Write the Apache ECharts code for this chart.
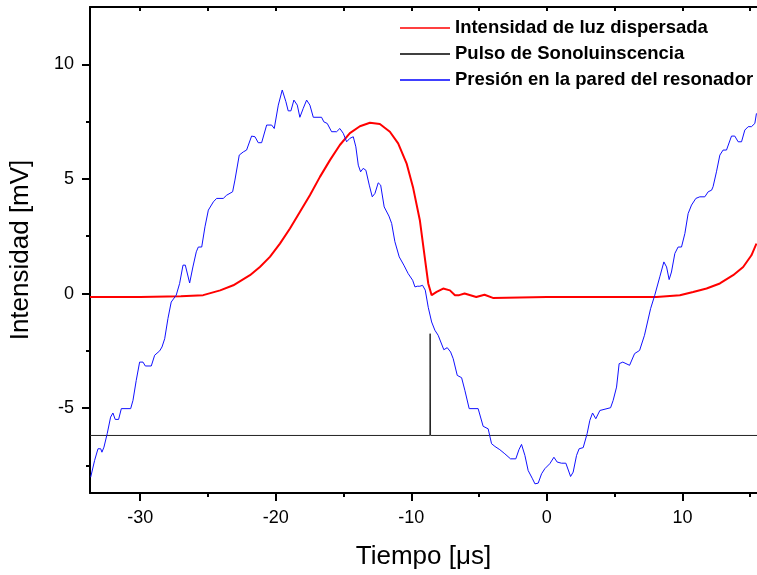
<!DOCTYPE html>
<html><head><meta charset="utf-8">
<script src="https://cdn.jsdelivr.net/npm/echarts@6/dist/echarts.min.js"></script>
<style>html,body{margin:0;padding:0;background:#fff}#c{width:757px;height:575px}</style>
</head><body><div id="c"></div>
<script>
const seriesNames = ['Intensidad de luz dispersada', 'Pulso de Sonoluinscencia', 'Presión en la pared del resonador'];
const xTickLabels = [-30, -20, -10, 0, 10];
const xMinorTicks = [-25, -15, -5, 5, 15];
const xTopTicks = [-30, -25, -20, -15, -10, -5, 0, 5, 10, 15];
const yTickLabels = [-5, 0, 5, 10];
const yMinorTicks = [-7.5, -2.5, 2.5, 7.5];

const redX = [-33.7,-30,-27,-25.35,-24.1,-23.13,-21.9,-21.17,-20.43,-19.69,-18.95,-18.22,-17.48,-16.74,-16.0,-15.27,-14.53,-13.79,-13.05,-12.32,-11.58,-10.97,-10.35,-9.86,-9.37,-9.0,-8.75,-8.5,-8.13,-7.65,-7.15,-6.78,-6.47,-6.07,-5.21,-4.6,-3.98,0,5,8.09,9.81,10.79,11.78,12.76,13.74,14.48,15.09,15.46];
const redY = [-0.15,-0.15,-0.12,-0.07,0.14,0.36,0.80,1.16,1.60,2.18,2.84,3.56,4.29,5.09,5.82,6.48,7.0,7.3,7.45,7.40,7.06,6.55,5.68,4.6,3.2,1.55,0.44,-0.07,0.07,0.22,0.14,-0.07,-0.07,0.0,-0.15,-0.05,-0.19,-0.15,-0.15,-0.15,-0.07,0.07,0.22,0.44,0.80,1.16,1.67,2.18];

const blackX = [-33.7, -8.63, -8.61, -8.58, 15.5];
const blackY = [-6.19, -6.19, -1.75, -6.19, -6.19];

const blueX = [-33.65,-33.36,-33.11,-32.91,-32.82,-32.67,-32.43,-32.18,-32.01,-31.84,-31.59,-31.39,-30.70,-30.53,-30.29,-30.04,-29.79,-29.62,-29.18,-28.93,-28.56,-28.39,-28.19,-27.95,-27.71,-27.34,-27.09,-26.84,-26.67,-26.35,-26.11,-25.86,-25.71,-25.46,-25.22,-24.97,-24.60,-24.36,-23.87,-23.62,-23.18,-23.01,-22.69,-22.39,-22.15,-21.78,-21.53,-21.29,-21.04,-20.67,-20.30,-20.11,-19.81,-19.52,-19.25,-19.08,-18.88,-18.66,-18.41,-18.22,-17.97,-17.72,-17.48,-17.23,-16.62,-16.45,-16.20,-15.88,-15.51,-15.27,-15.02,-14.77,-14.53,-14.28,-14.09,-13.91,-13.74,-13.55,-13.35,-13.10,-12.88,-12.68,-12.44,-12.26,-12.00,-11.65,-11.45,-11.21,-10.89,-10.55,-10.23,-9.90,-9.73,-9.56,-9.37,-9.17,-8.97,-8.75,-8.50,-8.26,-8.02,-7.60,-7.35,-7.10,-6.91,-6.61,-6.29,-6.05,-5.73,-5.07,-4.70,-4.33,-4.08,-3.83,-3.47,-3.10,-2.68,-2.29,-2.06,-1.87,-1.62,-1.38,-1.06,-0.88,-0.64,-0.39,-0.15,0.22,0.52,0.76,1.08,1.40,1.75,1.94,2.19,2.38,2.68,2.97,3.17,3.37,3.61,3.91,4.03,4.70,4.89,5.14,5.33,5.60,6.10,6.47,6.84,7.20,7.65,7.96,8.33,8.63,8.83,9.02,9.19,9.44,9.68,9.93,10.18,10.42,10.67,10.99,11.28,11.65,11.90,12.15,12.26,12.51,12.76,13.00,13.25,13.62,13.86,14.11,14.36,14.60,14.85,15.09,15.34,15.46];
const blueY = [-8.01,-7.28,-6.77,-6.77,-6.92,-6.70,-6.11,-5.39,-5.21,-5.49,-5.49,-5.02,-5.02,-4.66,-3.79,-2.99,-2.99,-3.16,-3.16,-2.69,-2.50,-2.33,-1.97,-1.09,-0.37,-0.07,0.44,1.24,1.24,0.46,1.16,1.82,2.03,2.03,2.91,3.64,4.00,4.15,4.15,4.29,4.44,4.95,6.04,6.18,6.26,6.87,6.84,6.58,6.58,7.35,7.35,7.20,8.22,8.88,8.37,7.97,7.97,8.44,8.22,7.69,8.08,8.44,8.22,7.69,7.69,7.49,7.42,7.06,7.06,7.20,6.99,6.62,6.77,6.84,6.40,5.60,5.31,5.46,5.38,4.73,4.22,4.37,4.83,4.73,3.78,3.38,3.06,2.26,1.60,1.24,0.87,0.58,0.29,0.32,0.32,0.36,0.15,-0.60,-1.24,-1.60,-1.82,-2.45,-2.36,-2.55,-2.84,-3.57,-3.67,-4.22,-5.02,-5.02,-5.79,-5.90,-6.55,-6.67,-6.81,-6.99,-7.21,-7.21,-6.81,-6.58,-7.06,-7.72,-8.08,-8.30,-8.27,-7.86,-7.64,-7.42,-7.14,-7.35,-7.40,-7.40,-7.98,-7.79,-7.06,-6.77,-6.72,-6.11,-5.53,-5.21,-5.46,-5.10,-5.02,-4.98,-4.66,-4.08,-3.06,-2.99,-3.13,-2.62,-2.48,-1.82,-0.66,-0.07,0.73,1.38,1.16,0.61,0.94,1.75,2.03,2.03,2.62,3.49,3.86,4.15,4.22,4.22,4.44,4.51,4.66,5.31,6.04,6.26,6.26,6.87,6.87,6.62,6.62,7.13,7.28,7.28,7.42,7.86];

const zip = (xs, ys) => xs.map((x, i) => [x, ys[i]]);
const FONT = "'Liberation Sans', Arial, sans-serif";
const X_MIN = -33.7, X_MAX = 15.5, Y_MIN = -8.7, Y_MAX = 12.5;

const chart = echarts.init(document.getElementById('c'), null, {renderer: 'canvas'});
chart.setOption({
  animation: false,
  backgroundColor: '#ffffff',
  grid: {left: 90, right: 0, top: 7, bottom: 82, outerBoundsMode: 'none', containLabel: false},
  legend: {
    orient: 'vertical', left: 400, top: 18, padding: 0, itemWidth: 50, itemHeight: 1.5, itemGap: 6,
    icon: 'rect', selectedMode: false,
    textStyle: {fontSize: 18.5, fontWeight: 'bold', color: '#000', fontFamily: FONT, lineHeight: 20},
    data: seriesNames
  },
  xAxis: [
    {type: 'value', min: X_MIN, max: X_MAX, position: 'bottom',
     axisLine: {show: true, onZero: false, lineStyle: {color: '#000', width: 2}},
     axisTick: {show: true, length: 8, customValues: xTickLabels, lineStyle: {color: '#000', width: 2}},
     axisLabel: {customValues: xTickLabels, fontSize: 18, color: '#000', fontFamily: FONT, margin: 16},
     splitLine: {show: false},
     name: 'Tiempo [μs]', nameLocation: 'middle', nameGap: 51,
     nameTextStyle: {fontSize: 26, color: '#000', fontFamily: FONT}},
    {type: 'value', min: X_MIN, max: X_MAX, position: 'bottom',
     axisLine: {show: false, onZero: false},
     axisTick: {show: true, length: 4, customValues: xMinorTicks, lineStyle: {color: '#000', width: 2}},
     axisLabel: {show: false}, splitLine: {show: false}},
    {type: 'value', min: X_MIN, max: X_MAX, position: 'top',
     axisLine: {show: true, onZero: false, lineStyle: {color: '#000', width: 2}},
     axisTick: {show: true, inside: true, length: 4, customValues: xTopTicks, lineStyle: {color: '#000', width: 2}},
     axisLabel: {show: false}, splitLine: {show: false}}
  ],
  yAxis: [
    {type: 'value', min: Y_MIN, max: Y_MAX, position: 'left',
     axisLine: {show: true, onZero: false, lineStyle: {color: '#000', width: 2}},
     axisTick: {show: true, length: 8, customValues: yTickLabels, lineStyle: {color: '#000', width: 2}},
     axisLabel: {customValues: yTickLabels, fontSize: 18, color: '#000', fontFamily: FONT, margin: 16},
     splitLine: {show: false},
     name: 'Intensidad [mV]', nameLocation: 'middle', nameGap: 56,
     nameTextStyle: {fontSize: 26, color: '#000', fontFamily: FONT}},
    {type: 'value', min: Y_MIN, max: Y_MAX, position: 'left',
     axisLine: {show: false, onZero: false},
     axisTick: {show: true, length: 4, customValues: yMinorTicks, lineStyle: {color: '#000', width: 2}},
     axisLabel: {show: false}, splitLine: {show: false}}
  ],
  series: [
    {name: seriesNames[0], type: 'line', data: zip(redX, redY), showSymbol: false, symbol: 'none',
     color: '#ff0000', lineStyle: {color: '#ff0000', width: 2}, xAxisIndex: 0, yAxisIndex: 0, z: 2},
    {name: seriesNames[1], type: 'line', data: zip(blackX, blackY), showSymbol: false, symbol: 'none',
     color: '#000000', lineStyle: {color: '#222', width: 1}, xAxisIndex: 0, yAxisIndex: 0, z: 3},
    {name: seriesNames[2], type: 'line', data: zip(blueX, blueY), showSymbol: false, symbol: 'none',
     color: '#0000ff', lineStyle: {color: '#1010ff', width: 1}, xAxisIndex: 0, yAxisIndex: 0, z: 4}
  ]
});
</script></body></html>
